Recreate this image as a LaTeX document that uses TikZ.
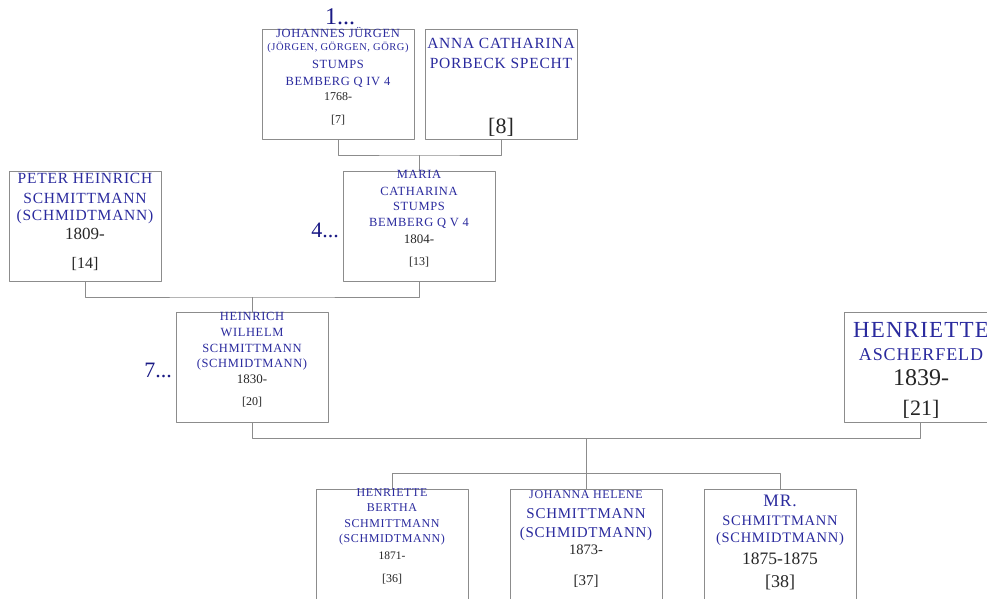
\documentclass[tikz,border=0pt]{standalone}
\usepackage{fontspec}
\setmainfont{Liberation Serif}
\newfontfamily\namefont[LetterSpace=5]{Liberation Serif}
\definecolor{nameblue}{HTML}{2A2A9E}
\definecolor{navy}{HTML}{1A1A85}
\definecolor{boxgray}{HTML}{8C8C8C}
\newcommand{\fsz}[1]{\fontsize{#1}{#1}\selectfont}
\begin{document}
\begin{tikzpicture}[x=1pt,y=-1pt,line join=round,
	pbox/.style={draw=boxgray,fill=white,line width=1pt,minimum width=152pt,minimum height=110pt,inner sep=0pt},
	nm/.style={text=nameblue,anchor=base,inner sep=0pt,font=\namefont\fsz{#1}},
	yr/.style={text=black!85,anchor=base,inner sep=0pt,font=\fsz{#1}},
	gen/.style={text=navy,anchor=base,inner sep=0pt,font=\fsz{#1}},
	link/.style={draw=boxgray,line width=1pt}]
		\useasboundingbox (0,0) rectangle (987,598);
		\clip (0,0) rectangle (987,598);
		% Kästen
		\node[pbox] (p7) at (338,84.5) {};
		\node[pbox] (p8) at (501,84.5) {};
		\node[pbox] (p14) at (85,226) {};
		\node[pbox] (p13) at (419,226) {};
		\node[pbox] (p20) at (252,367.5) {};
		\node[pbox] (p21) at (920,367.5) {};
		\node[pbox] (p36) at (392,544) {};
		\node[pbox] (p37) at (586,544) {};
		\node[pbox] (p38) at (780,544) {};
		% Linien
		\coordinate (m1) at (419,155);
		\coordinate (m2) at (252,297);
		\coordinate (m3) at (586,438);
		\coordinate (m4) at (586,473);
		\draw[link] (p7.south) |- (m1) -| (p8.south);
		\draw[link] (m1) -- (p13.north);
		\draw[link] (p14.south) |- (m2) -| (p13.south);
		\draw[link] (m2) -- (p20.north);
		\draw[link] (p20.south) |- (m3) -| (p21.south);
		\draw[link] (m3) -- (m4);
		\draw[link] (p36.north) |- (m4) -| (p38.north);
		\draw[link] (m4) -- (p37.north);
		% Generationen
		\node[gen=24] (g1) at (340,24) {1...};
		\node[gen=22,anchor=base east] (g4) at (339,237) {4...};
		\node[gen=22,anchor=base east] (g7) at (172,377) {7...};
		% [7]
		\node[nm=12.5] (t7a) at (338,37) {JOHANNES JÜRGEN};
		\node[nm=10.5] (t7b) at (338,50) {(JÖRGEN, GÖRGEN, GÖRG)};
		\node[nm=12.5] (t7c) at (338,68) {STUMPS};
		\node[nm=12.5] (t7d) at (338,85) {BEMBERG Q IV 4};
		\node[yr=12] (t7e) at (338,100) {1768-};
		\node[yr=12] (t7f) at (338,123) {[7]};
		% [8]
		\node[nm=15.5] (t8a) at (501,48) {ANNA CATHARINA};
		\node[nm=15.5] (t8b) at (501,68) {PORBECK SPECHT};
		\node[yr=22] (t8c) at (501,133) {[8]};
		% [14]
		\node[nm=15.5] (t14a) at (85,183) {PETER HEINRICH};
		\node[nm=15.5] (t14b) at (85,203) {SCHMITTMANN};
		\node[nm=15.5] (t14c) at (85,220) {(SCHMIDTMANN)};
		\node[yr=17] (t14d) at (85,239) {1809-};
		\node[yr=16] (t14e) at (85,268) {[14]};
		% [13]
		\node[nm=12.5] (t13a) at (419,178) {MARIA};
		\node[nm=12.5] (t13b) at (419,195) {CATHARINA};
		\node[nm=12.5] (t13c) at (419,210) {STUMPS};
		\node[nm=12.5] (t13d) at (419,226) {BEMBERG Q V 4};
		\node[yr=13] (t13e) at (419,243) {1804-};
		\node[yr=12] (t13f) at (419,265) {[13]};
		% [20]
		\node[nm=12.5] (t20a) at (252,320) {HEINRICH};
		\node[nm=12.5] (t20b) at (252,336) {WILHELM};
		\node[nm=12.5] (t20c) at (252,352) {SCHMITTMANN};
		\node[nm=12.5] (t20d) at (252,367) {(SCHMIDTMANN)};
		\node[yr=13] (t20e) at (252,383) {1830-};
		\node[yr=12] (t20f) at (252,405) {[20]};
		% [21]
		\node[nm=23] (t21a) at (921,337) {HENRIETTE};
		\node[nm=18] (t21b) at (921,360) {ASCHERFELD};
		\node[yr=24] (t21c) at (921,385) {1839-};
		\node[yr=22] (t21d) at (921,415) {[21]};
		% [36]
		\node[nm=12] (t36a) at (392,496) {HENRIETTE};
		\node[nm=12] (t36b) at (392,511) {BERTHA};
		\node[nm=12] (t36c) at (392,527) {SCHMITTMANN};
		\node[nm=12] (t36d) at (392,542) {(SCHMIDTMANN)};
		\node[yr=11.5] (t36e) at (392,559) {1871-};
		\node[yr=12] (t36f) at (392,582) {[36]};
		% [37]
		\node[nm=12] (t37a) at (586,498) {JOHANNA HELENE};
		\node[nm=15] (t37b) at (586,518) {SCHMITTMANN};
		\node[nm=15] (t37c) at (586,537) {(SCHMIDTMANN)};
		\node[yr=14.5] (t37d) at (586,554) {1873-};
		\node[yr=15] (t37e) at (586,585) {[37]};
		% [38]
		\node[nm=17.5] (t38a) at (780,506) {MR.};
		\node[nm=14.5] (t38b) at (780,525) {SCHMITTMANN};
		\node[nm=14.5] (t38c) at (780,542) {(SCHMIDTMANN)};
		\node[yr=17.5] (t38d) at (780,564) {1875-1875};
		\node[yr=18] (t38e) at (780,587) {[38]};
\end{tikzpicture}
\end{document}
